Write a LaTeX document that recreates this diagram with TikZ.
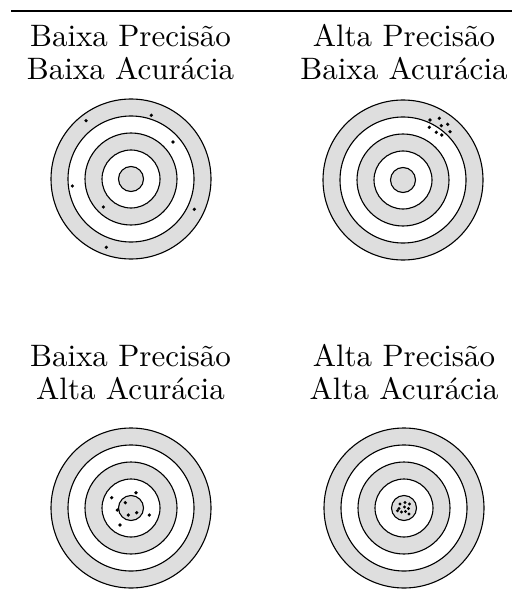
\documentclass[tikz,border=0pt]{standalone}
\usepackage{fontspec}
\begin{document}
\begin{tikzpicture}[x=1pt,y=-1pt,
  lbl/.style={anchor=base,inner sep=0pt,font=\fontsize{10}{12}\selectfont,scale=3.1},
  ring/.style={draw=black,line width=1.1pt},
  grayring/.style={ring,fill=ringgray},
  whitering/.style={ring,fill=white},
  hit/.style={fill=black}]
\definecolor{ringgray}{gray}{0.87}
\useasboundingbox (0,0) rectangle (512,604);
\newcommand\mytarget[2]{%
  \draw[grayring] (#1,#2) circle[radius=80];
  \draw[whitering] (#1,#2) circle[radius=63];
  \draw[grayring] (#1,#2) circle[radius=46];
  \draw[whitering] (#1,#2) circle[radius=29];
  \draw[grayring] (#1,#2) circle[radius=12.5];
}
\draw[line width=1.3pt] (11,11) -- (512,11);
% labels
\node[lbl] (l1a) at (130.5,46.7) {Baixa Precisão};
\node[lbl] (l1b) at (130.5,79.3) {Baixa Acurácia};
\node[lbl] (l2a) at (404,46.7) {Alta Precisão};
\node[lbl] (l2b) at (404,79.3) {Baixa Acurácia};
\node[lbl] (l3a) at (130.5,366.7) {Baixa Precisão};
\node[lbl] (l3b) at (130.5,399.3) {Alta Acurácia};
\node[lbl] (l4a) at (404,366.7) {Alta Precisão};
\node[lbl] (l4b) at (404,399.3) {Alta Acurácia};
% targets
\mytarget{131}{179}
\mytarget{403}{180}
\mytarget{131}{508}
\mytarget{404}{508}
% hits: low precision, low accuracy
\foreach \p in {(86,120.7),(151.3,115.3),(173,142),(72.3,186),(103.3,207),(194.3,209.3),(106.3,247.3)}
  \fill[hit] \p circle[radius=1.8];
% high precision, low accuracy
\foreach \p in {(430,120),(439.3,118.3),(447.7,124.3),(441.3,125.7),(429.3,127.3),(436.3,132.3),(441.7,135),(450,131.7)}
  \fill[hit] \p circle[radius=1.8];
% low precision, high accuracy
\foreach \p in {(111.7,497.7),(136,492.7),(125.3,502.7),(117.3,510),(128.3,515),(136.7,512.7),(149.3,515),(120,525)}
  \fill[hit] \p circle[radius=1.8];
% high precision, high accuracy
\foreach \p in {(400,504),(405,502.5),(409.5,504),(404.5,507),(408.5,508.5),(399,508.5),(401.5,512),(405.5,511.5),(409,514),(397.5,510.8)}
  \fill[hit] \p circle[radius=1.6];
\end{tikzpicture}
\end{document}
